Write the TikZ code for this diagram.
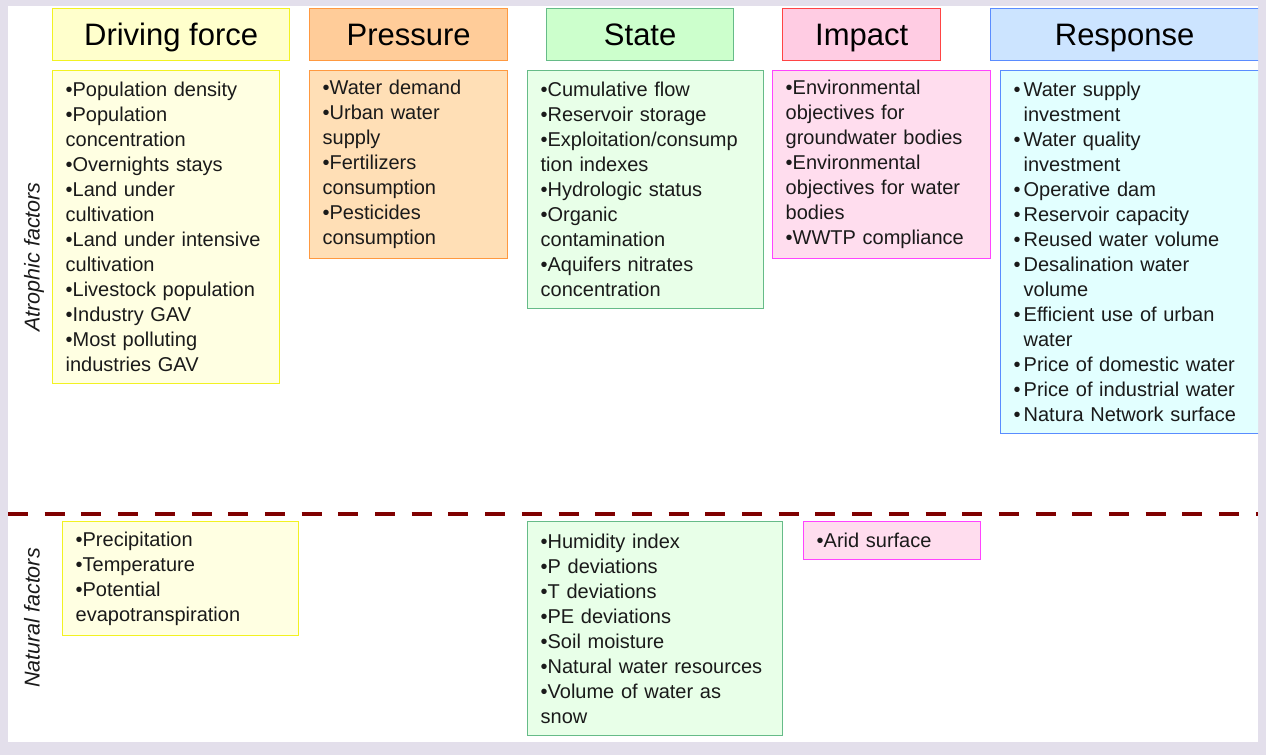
\documentclass[tikz,border=0pt]{standalone}
\usepackage{fontspec}
\setmainfont{Liberation Sans}
\definecolor{frame}{HTML}{E3DFEB}
\definecolor{txt}{HTML}{1A1A1A}
\definecolor{dfhead}{HTML}{FFFFCC}
\definecolor{dfbody}{HTML}{FFFFE2}
\definecolor{dfline}{HTML}{F2F222}
\definecolor{prhead}{HTML}{FFCC99}
\definecolor{prbody}{HTML}{FFDFB6}
\definecolor{prline}{HTML}{FF9940}
\definecolor{sthead}{HTML}{CCFFCC}
\definecolor{stbody}{HTML}{E8FFE8}
\definecolor{stline}{HTML}{66BB88}
\definecolor{imhead}{HTML}{FFCCE3}
\definecolor{imbody}{HTML}{FFDDEE}
\definecolor{imhline}{HTML}{FF4444}
\definecolor{imline}{HTML}{FF44FF}
\definecolor{rshead}{HTML}{CCE4FF}
\definecolor{rsbody}{HTML}{E2FFFF}
\definecolor{rsline}{HTML}{5A8CFF}
\definecolor{divider}{HTML}{7F0000}
\newcommand{\rbul}{\textbullet\hspace{3pt}}
\newcommand{\rind}{\hphantom{\textbullet\hspace{3pt}}}
\tikzset{
  head/.style={draw, line width=1.3pt, anchor=north west, inner sep=0pt,
    minimum height=52pt, text height=22pt, text depth=0pt, text=black,
    font=\fontsize{31}{36}\selectfont},
  list/.style={draw, line width=1.3pt, anchor=north west, inner xsep=13pt,
    inner ysep=0pt, align=left, text=txt, font=\fontsize{20}{25}\selectfont},
  side/.style={rotate=90, text=txt, font=\itshape\fontsize{21.5}{24}\selectfont}
}
\begin{document}
\begin{tikzpicture}[x=1pt,y=-1pt]
      \useasboundingbox (0,0) rectangle (1266,755);
      \fill[frame] (0,0) rectangle (1266,755);
      \fill[white] (8,6) rectangle (1258,742);
      \begin{scope}
        \clip (8,6) rectangle (1258,742);
        % column heads
        \node[head, fill=dfhead, draw=dfline, minimum width=237pt] (dfhd) at (52,8) {Driving force};
        \node[head, fill=prhead, draw=prline, minimum width=198pt] (prhd) at (309,8) {Pressure};
        \node[head, fill=sthead, draw=stline, minimum width=187pt] (sthd) at (546,8) {State};
        \node[head, fill=imhead, draw=imhline, minimum width=158pt] (imhd) at (782,8) {Impact};
        \node[head, fill=rshead, draw=rsline, minimum width=290pt] (rshd) at (990,8) {Response\hspace*{22pt}};
        % atrophic factors
        \node[list, fill=dfbody, draw=dfline, text width=201pt, minimum height=313pt] (dfat) at (52,70)
          {•Population density\\•Population\\concentration\\•Overnights stays\\•Land under\\cultivation\\
           •Land under intensive\\cultivation\\•Livestock population\\•Industry GAV\\•Most polluting\\industries GAV};
        \node[list, fill=prbody, draw=prline, text width=172pt, minimum height=188pt] (prat) at (309,70)
          {•Water demand\\•Urban water\\supply\\•Fertilizers\\consumption\\•Pesticides\\consumption};
        \node[list, fill=stbody, draw=stline, text width=210pt, minimum height=238pt] (stat) at (527,70)
          {•Cumulative flow\\•Reservoir storage\\•Exploitation/consump\\tion indexes\\•Hydrologic status\\
           •Organic\\contamination\\•Aquifers nitrates\\concentration};
        \node[list, fill=imbody, draw=imline, text width=192pt, minimum height=188pt] (imat) at (772,70)
          {•Environmental\\objectives for\\groundwater bodies\\•Environmental\\objectives for water\\bodies\\•WWTP compliance};
        \node[list, fill=rsbody, draw=rsline, text width=254pt, minimum height=363pt] (rsat) at (1000,70)
          {\rbul Water supply\\\rind investment\\
           \rbul Water quality\\\rind investment\\
           \rbul Operative dam\\\rbul Reservoir capacity\\\rbul Reused water volume\\
           \rbul Desalination water\\\rind volume\\
           \rbul Efficient use of urban\\\rind water\\
           \rbul Price of domestic water\\\rbul Price of industrial water\\
           \rbul Natura Network surface};
        % divider
        \coordinate (dl) at (8,514);
        \coordinate (dr) at (1258,514);
        \draw[divider, line width=4.5pt, dash pattern=on 20pt off 16.7pt] (dl) -- (dr);
        % natural factors
        \node[list, fill=dfbody, draw=dfline, text width=210pt, minimum height=114pt] (dfnt) at (62,521)
          {•Precipitation\\•Temperature\\•Potential\\evapotranspiration};
        \node[list, fill=stbody, draw=stline, text width=229pt, minimum height=214pt] (stnt) at (527,521)
          {•Humidity index\\•P deviations\\•T deviations\\•PE deviations\\•Soil moisture\\
           •Natural water resources\\•Volume of water as\\snow};
        \node[list, fill=imbody, draw=imline, text width=151pt, minimum height=38pt] (imnt) at (803,521)
          {•Arid surface};
      \end{scope}
      \node[side] (atro) at (34,257) {Atrophic factors};
      \node[side] (natu) at (32,618) {Natural factors};
    \end{tikzpicture}
\end{document}
